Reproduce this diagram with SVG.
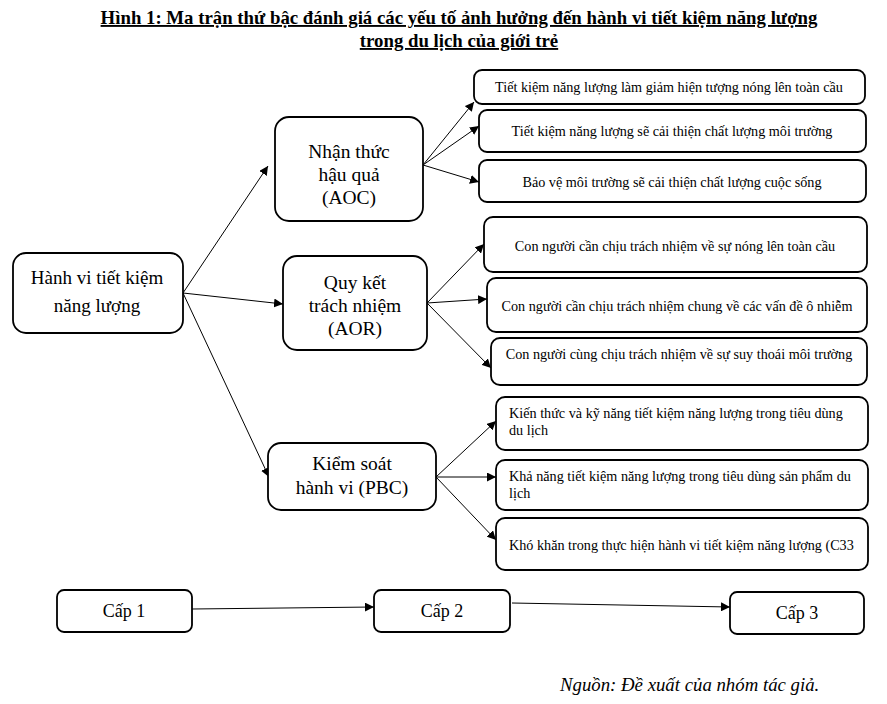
<svg xmlns="http://www.w3.org/2000/svg" width="887" height="704" viewBox="0 0 887 704">
<style>
.box{fill:#fff;stroke:#000;stroke-width:1.8}
.c{stroke:#000;stroke-width:1;fill:none}
.t{font-family:"Liberation Serif","Times New Roman","DejaVu Serif",serif;fill:#000}
.big{font-size:19.5px;text-anchor:middle}
.root{font-size:19px;text-anchor:middle}
.cap{font-size:18px;text-anchor:middle}
.sm{font-size:14.2px}
.mid{text-anchor:middle}
.title{font-size:18.8px;font-weight:bold;text-anchor:middle;text-decoration:underline}
</style>
<defs>
<marker id="ah" viewBox="0 0 10 10" refX="10" refY="5" markerWidth="9" markerHeight="9" markerUnits="userSpaceOnUse" orient="auto">
<path d="M0,0 L10,5 L0,10 z" fill="#000"/>
</marker>
</defs>
<rect width="887" height="704" fill="#fff"/>
<g id="title">
<text class="t title" x="459" y="24">Hình 1: Ma trận thứ bậc đánh giá các yếu tố ảnh hưởng đến hành vi tiết kiệm năng lượng</text>
<text class="t title" x="459" y="47">trong du lịch của giới trẻ</text>
</g>
<g id="connectors">
<line class="c" x1="183" y1="293" x2="268" y2="166" marker-end="url(#ah)"/>
<line class="c" x1="183" y1="293" x2="283" y2="304" marker-end="url(#ah)"/>
<line class="c" x1="183" y1="293" x2="269" y2="477" marker-end="url(#ah)"/>
<line class="c" x1="423" y1="165" x2="474" y2="102" marker-end="url(#ah)"/>
<line class="c" x1="423" y1="165" x2="479" y2="126" marker-end="url(#ah)"/>
<line class="c" x1="423" y1="165" x2="479" y2="182" marker-end="url(#ah)"/>
<line class="c" x1="427" y1="303" x2="484" y2="244" marker-end="url(#ah)"/>
<line class="c" x1="427" y1="303" x2="487" y2="299" marker-end="url(#ah)"/>
<line class="c" x1="427" y1="303" x2="491" y2="368" marker-end="url(#ah)"/>
<line class="c" x1="436" y1="477" x2="496" y2="421" marker-end="url(#ah)"/>
<line class="c" x1="436" y1="477" x2="496" y2="477" marker-end="url(#ah)"/>
<line class="c" x1="436" y1="477" x2="496" y2="540" marker-end="url(#ah)"/>
<line class="c" x1="192" y1="609" x2="374" y2="607" marker-end="url(#ah)"/>
<line class="c" x1="512" y1="603" x2="730" y2="607" marker-end="url(#ah)"/>
</g>
<g id="root">
<rect class="box" x="13" y="253" width="170" height="80" rx="13"/>
<text class="t root" x="97" y="284">Hành vi tiết kiệm</text>
<text class="t root" x="97" y="312">năng lượng</text>
</g>
<g id="aoc">
<rect class="box" x="275" y="117" width="148" height="104" rx="14"/>
<text class="t big" x="349" y="158">Nhận thức</text>
<text class="t big" x="349" y="181">hậu quả</text>
<text class="t big" x="349" y="204">(AOC)</text>
</g>
<g id="aor">
<rect class="box" x="283" y="256" width="144" height="94" rx="14"/>
<text class="t big" x="355" y="289">Quy kết</text>
<text class="t big" x="355" y="312">trách nhiệm</text>
<text class="t big" x="355" y="335">(AOR)</text>
</g>
<g id="pbc">
<rect class="box" x="268" y="443" width="168" height="67" rx="13"/>
<text class="t big" x="352" y="470">Kiểm soát</text>
<text class="t big" x="352" y="494">hành vi (PBC)</text>
</g>
<g id="aoc1">
<rect class="box" x="474" y="70" width="391" height="34" rx="8"/>
<text class="t sm mid" x="669" y="92">Tiết kiệm năng lượng làm giảm hiện tượng nóng lên toàn cầu</text>
</g>
<g id="aoc2">
<rect class="box" x="479" y="110" width="387" height="42" rx="8"/>
<text class="t sm mid" x="672" y="136">Tiết kiệm năng lượng sẽ cải thiện chất lượng môi trường</text>
</g>
<g id="aoc3">
<rect class="box" x="479" y="160" width="387" height="42" rx="8"/>
<text class="t sm mid" x="672" y="187">Bảo vệ môi trường sẽ cải thiện chất lượng cuộc sống</text>
</g>
<g id="aor1">
<rect class="box" x="484" y="217" width="383" height="55" rx="9"/>
<text class="t sm mid" x="675" y="251">Con người cần chịu trách nhiệm về sự nóng lên toàn cầu</text>
</g>
<g id="aor2">
<rect class="box" x="487" y="278" width="380" height="54" rx="9"/>
<text class="t sm mid" x="677" y="311">Con người cần chịu trách nhiệm chung về các vấn đề ô nhiễm</text>
</g>
<g id="aor3">
<rect class="box" x="491" y="338" width="376" height="47" rx="9"/>
<text class="t sm mid" x="679" y="359">Con người cùng chịu trách nhiệm về sự suy thoái môi trường</text>
</g>
<g id="pbc1">
<rect class="box" x="496" y="397" width="372" height="53" rx="9"/>
<text class="t sm" x="509" y="418">Kiến thức và kỹ năng tiết kiệm năng lượng trong tiêu dùng</text>
<text class="t sm" x="509" y="435">du lịch</text>
</g>
<g id="pbc2">
<rect class="box" x="496" y="460" width="372" height="50" rx="9"/>
<text class="t sm" x="509" y="481">Khả năng tiết kiệm năng lượng trong tiêu dùng sản phẩm du</text>
<text class="t sm" x="509" y="498">lịch</text>
</g>
<g id="pbc3">
<rect class="box" x="496" y="518" width="372" height="52" rx="9"/>
<text class="t sm" x="509" y="550">Khó khăn trong thực hiện hành vi tiết kiệm năng lượng (C33</text>
</g>
<g id="cap1">
<rect class="box" x="57" y="590" width="135" height="42" rx="7"/>
<text class="t cap" x="124" y="617">Cấp 1</text>
</g>
<g id="cap2">
<rect class="box" x="374" y="590" width="136" height="42" rx="7"/>
<text class="t cap" x="442" y="617">Cấp 2</text>
</g>
<g id="cap3">
<rect class="box" x="730" y="592" width="134" height="42" rx="7"/>
<text class="t cap" x="797" y="619">Cấp 3</text>
</g>
<text class="t" x="560" y="691" font-size="18.8" font-style="italic">Nguồn: Đề xuất của nhóm tác giả.</text>
</svg>
